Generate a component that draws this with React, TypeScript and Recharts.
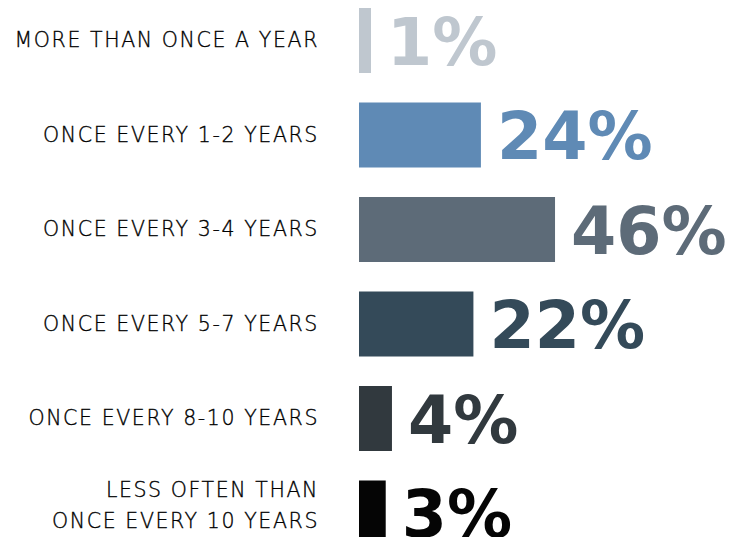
import React from "react";
import { BarChart, Bar, XAxis, YAxis, Cell, LabelList } from "recharts";

// Survey answers: how often respondents do it
const CATEGORIES = [
  "MORE THAN ONCE A YEAR",
  "ONCE EVERY 1-2 YEARS",
  "ONCE EVERY 3-4 YEARS",
  "ONCE EVERY 5-7 YEARS",
  "ONCE EVERY 8-10 YEARS",
  "LESS OFTEN THAN\nONCE EVERY 10 YEARS",
];
const SHARES = [1, 24, 46, 22, 4, 3];
const BAR_COLORS = ["#bfc7cf", "#5f8ab5", "#5d6b78", "#344a59", "#31393e", "#050505"];

// bars in the original are not drawn to a linear scale; a power scale fits them well
const BAR_EXPONENT = 0.73;

const data = CATEGORIES.map((label, i) => ({ label, value: SHARES[i] }));

function CategoryTick(props: any) {
  const { x, y, payload } = props;
  const lines: string[] = String(payload.value).split("\n");
  const first = lines.length === 1 ? 7 : -16;
  return (
    <text
      x={x}
      y={y}
      textAnchor="end"
      fill="#000"
      stroke="#000"
      strokeWidth={0.35}
      fontFamily="'DejaVu Sans', sans-serif"
      fontWeight={200}
      fontSize={20.5}
      letterSpacing={1.6}
    >
      {lines.map((ln, i) => (
        <tspan key={i} x={x} y={y + first + i * 31}>{ln}</tspan>
      ))}
    </text>
  );
}

function ShareLabel(props: any) {
  const { x, y, width, height, value, index } = props;
  return (
    <text
      x={x + width + 16}
      y={y + height / 2 + 24}
      fill={BAR_COLORS[index]}
      fontFamily="'DejaVu Sans', sans-serif"
      fontWeight={700}
      fontSize={65}
    >
      {value}%
    </text>
  );
}

export default function App() {
  return (
    <div style={{ position: "fixed", left: 0, top: 0, width: 746, height: 537, overflow: "hidden", background: "#fff" }}>
      <div style={{ position: "absolute", left: 0, top: -7 }}>
        <BarChart
          width={746}
          height={567}
          data={data}
          layout="vertical"
          margin={{ top: 0, right: 0, bottom: 0, left: 0 }}
        >
          <XAxis type="number" hide domain={[0, 32.3]} />
          <YAxis
            type="category"
            dataKey="label"
            width={359}
            axisLine={false}
            tickLine={false}
            tickSize={0}
            tickMargin={40}
            interval={0}
            tick={<CategoryTick />}
          />
          <Bar
            dataKey={(d: any) => Math.pow(d.value, BAR_EXPONENT)}
            barSize={65}
            isAnimationActive={false}
          >
            {data.map((d, i) => (
              <Cell key={d.label} fill={BAR_COLORS[i]} />
            ))}
            <LabelList dataKey="value" content={<ShareLabel />} />
          </Bar>
        </BarChart>
      </div>
    </div>
  );
}
